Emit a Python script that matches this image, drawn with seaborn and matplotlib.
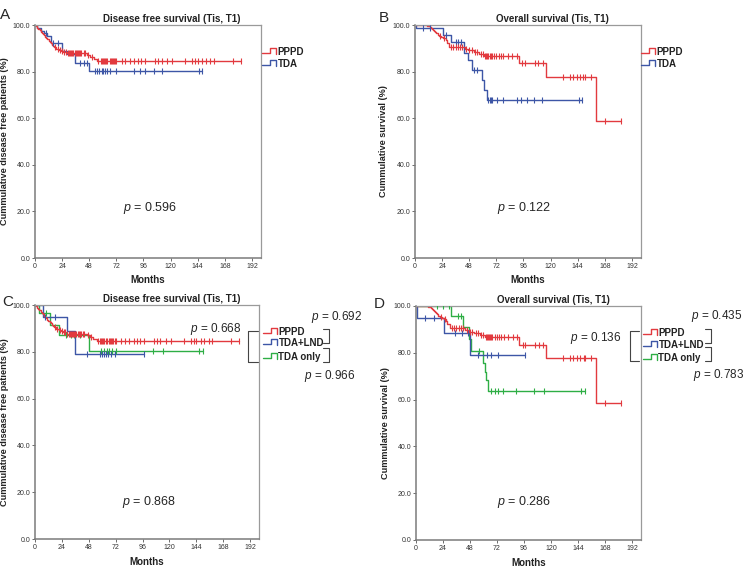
import numpy as np
import pandas as pd
import seaborn as sns
import matplotlib.pyplot as plt

# ---------------- data ----------------
month_ticks = [0, 24, 48, 72, 96, 120, 144, 168, 192]
pct_ticks = [0, 20, 40, 60, 80, 100]

# disease free survival (A, C)
dfs_pppd_t = [1, 2, 3, 4, 5, 6, 7, 8, 9, 10, 11, 12, 13, 14, 15, 16, 17, 19, 21, 23, 25, 28, 46, 49, 52, 55]
dfs_pppd_s = [99.4, 98.9, 98.3, 97.8, 97.2, 96.6, 96.1, 95.5, 95.0, 94.4, 93.8, 93.3, 92.7, 92.2, 91.6,
              91.0, 90.5, 89.9, 89.4, 88.8, 88.3, 87.8, 87.0, 86.2, 85.4, 84.6]
dfs_pppd_cens = [18, 20, 22, 24, 26, 27, 29, 30, 31, 32, 33, 34, 35, 36, 37, 38, 39, 40, 41, 43, 44, 47, 50,
                 56, 58, 59, 60, 61, 62, 63, 64, 66, 67, 68, 69, 70, 71, 72, 77, 80, 84, 88, 91, 94, 97,
                 106, 109, 112, 117, 121, 133, 139, 142, 144, 148, 151, 155, 158, 175, 182]

dfs_tda_t = [2, 5, 8, 11, 14, 24, 28, 35, 48]
dfs_tda_s = [98.8, 97.6, 96.4, 95.2, 92.1, 89.0, 87.5, 83.8, 80.1]
dfs_tda_cens = [10, 16, 20, 40, 43, 46, 53, 55, 57, 59, 60, 62, 64, 66, 72, 88, 93, 97, 105, 112, 145, 148]

dfs_lnd_t = [7, 29, 36]
dfs_lnd_s = [94.7, 89.0, 79.1]
dfs_lnd_cens = [9, 18, 46, 58, 60, 62, 63, 65, 68, 71, 97]

dfs_only_t = [4, 13, 21, 48]
dfs_only_s = [96.4, 91.5, 87.0, 80.2]
dfs_only_cens = [10, 28, 32, 35, 40, 59, 62, 64, 66, 69, 72, 105, 114, 146, 150]

# overall survival (B, D)
os_pppd_t = [11, 13, 14, 15, 16, 17, 18, 19, 20, 21, 23, 25, 27, 28, 30, 44, 47, 52, 57, 61, 92, 116, 160]
os_pppd_s = [99.6, 99.1, 98.7, 98.2, 97.8, 97.3, 96.9, 96.4, 95.9, 95.4, 94.9, 94.3, 93.4, 92.4, 90.7,
             89.7, 89.1, 88.3, 87.6, 86.8, 83.5, 77.8, 58.6]
os_pppd_cens = [22, 26, 32, 34, 36, 38, 40, 42, 45, 48, 50, 53, 55, 58, 60, 62, 63, 64, 65, 66, 67, 68, 70,
                72, 74, 76, 78, 82, 86, 90, 95, 97, 106, 109, 113, 131, 137, 140, 143, 146, 149, 150, 156,
                168, 182]

os_tda_t = [1, 25, 32, 43, 47, 50, 59, 61, 64]
os_tda_s = [98.6, 95.7, 92.8, 87.8, 85.0, 80.5, 76.2, 72.1, 67.8]
os_tda_cens = [7, 13, 27, 36, 38, 41, 52, 55, 65, 66, 67, 68, 73, 78, 90, 94, 99, 105, 112, 145, 148]

os_lnd_t = [1, 25, 48]
os_lnd_s = [94.7, 88.4, 78.9]
os_lnd_cens = [8, 16, 35, 41, 46, 55, 63, 67, 73, 97]

os_only_t = [31, 42, 47, 49, 60, 61, 62, 64]
os_only_s = [95.8, 91.2, 86.0, 80.9, 75.5, 72.0, 68.5, 63.6]
os_only_cens = [19, 24, 29, 37, 40, 56, 67, 70, 73, 77, 89, 105, 114, 147, 150]

RED, BLUE, GREEN = '#e23a3f', '#3d56a6', '#2eae45'
W, H = 743, 574

sns.set_theme(style='white')
plt.rcParams['font.family'] = ['Liberation Sans', 'DejaVu Sans']
plt.rcParams['mathtext.fontset'] = 'custom'
plt.rcParams['mathtext.it'] = 'Liberation Sans:italic'
plt.rcParams['mathtext.rm'] = 'Liberation Sans'


def km_curve(ax, times, surv, cens, color):
    end = max(max(cens), times[-1])
    steps = pd.DataFrame({'t': [0] + list(times) + [end],
                          's': [100] + list(surv) + [surv[-1]]})
    sns.lineplot(data=steps, x='t', y='s', drawstyle='steps-post', estimator=None, sort=False,
                 color=color, lw=1.0, ax=ax)
    full_t = np.array([0] + list(times))
    full_s = np.array([100] + list(surv))
    idx = np.searchsorted(full_t, cens, side='right') - 1
    marks = pd.DataFrame({'t': cens, 's': full_s[idx]})
    sns.scatterplot(data=marks, x='t', y='s', marker='|', s=14, linewidth=0.8,
                    color=color, ax=ax, zorder=3)


def style_axes(ax, ylabel, ylab_x):
    ax.set_xlim(0, 200)
    ax.set_ylim(0, 100)
    ax.set_xticks(month_ticks)
    ax.set_xticklabels([str(m) for m in month_ticks])
    ax.set_yticks(pct_ticks)
    ax.set_yticklabels(['%.1f' % p for p in pct_ticks])
    ax.tick_params(axis='both', which='both', labelsize=5, length=2, width=0.6, pad=1.5,
                   direction='out', color='#555555', labelcolor='#333333', bottom=True, left=True)
    for side in ['top', 'right']:
        ax.spines[side].set_color('#9a9a9a')
        ax.spines[side].set_linewidth(0.9)
    for side in ['left', 'bottom']:
        ax.spines[side].set_color('#7a7a7a')
        ax.spines[side].set_linewidth(1.1)
    ax.set_xlabel('Months', fontsize=7, fontweight='bold', color='#222222')
    ax.set_ylabel(ylabel, fontsize=6.6, fontweight='bold', color='#222222')
    ax.xaxis.set_label_coords(0.5, -0.075)
    ax.yaxis.set_label_coords(ylab_x, 0.5)


fig = plt.figure(figsize=(W / 100, H / 100), dpi=100)

# axes positions from pixel boxes (left, top, right, bottom)
boxes = {'A': (35, 25, 261, 258), 'B': (415, 25, 641, 258),
         'C': (35, 305, 259, 539), 'D': (416, 306, 641, 540)}
axs = {}
for k, (l, t, r, b) in boxes.items():
    axs[k] = fig.add_axes([l / W, 1 - b / H, (r - l) / W, (b - t) / H])

ax = axs['A']
km_curve(ax, dfs_tda_t, dfs_tda_s, dfs_tda_cens, BLUE)
km_curve(ax, dfs_pppd_t, dfs_pppd_s, dfs_pppd_cens, RED)
style_axes(ax, 'Cummulative disease free patients (%)', -0.113)
ax.text(102, 21.5, r'$p$ = 0.596', fontsize=9, ha='center', va='center')

ax = axs['B']
km_curve(ax, os_tda_t, os_tda_s, os_tda_cens, BLUE)
km_curve(ax, os_pppd_t, os_pppd_s, os_pppd_cens, RED)
style_axes(ax, 'Cummulative survival (%)', -0.120)
ax.text(97, 21.5, r'$p$ = 0.122', fontsize=9, ha='center', va='center')

ax = axs['C']
km_curve(ax, dfs_only_t, dfs_only_s, dfs_only_cens, GREEN)
km_curve(ax, dfs_lnd_t, dfs_lnd_s, dfs_lnd_cens, BLUE)
km_curve(ax, dfs_pppd_t, dfs_pppd_s, dfs_pppd_cens, RED)
style_axes(ax, 'Cummulative disease free patients (%)', -0.114)
ax.text(102, 16, r'$p$ = 0.868', fontsize=9, ha='center', va='center')

ax = axs['D']
km_curve(ax, os_only_t, os_only_s, os_only_cens, GREEN)
km_curve(ax, os_lnd_t, os_lnd_s, os_lnd_cens, BLUE)
km_curve(ax, os_pppd_t, os_pppd_s, os_pppd_cens, RED)
style_axes(ax, 'Cummulative survival (%)', -0.116)
ax.text(96, 16.4, r'$p$ = 0.286', fontsize=9, ha='center', va='center')

# overlay in pixel coordinates for titles, keys, brackets
ov = fig.add_axes([0, 0, 1, 1], zorder=5)
ov.set_xlim(0, W)
ov.set_ylim(H, 0)
ov.axis('off')

for letter, (x, y) in {'A': (0, 15), 'B': (379, 18), 'C': (2, 302), 'D': (374, 304)}.items():
    ov.text(x, y, letter, fontsize=11, ha='left', va='center')

titles = [('Disease free survival (Tis, T1)', 172, 19), ('Overall survival (Tis, T1)', 552, 19),
          ('Disease free survival (Tis, T1)', 172, 299), ('Overall survival (Tis, T1)', 553, 300)]
for txt, x, y in titles:
    ov.text(x, y, txt, fontsize=7, fontweight='bold', ha='center', va='center', color='#222222')


def key(x0, y, color, label):
    lo, hi = y + 0.8, y - 4.0
    ov.plot([x0, x0 + 8, x0 + 8, x0 + 14, x0 + 14], [lo, lo, hi, hi, lo + 0.8], color=color, lw=1.0)
    ov.text(x0 + 15.5, y, label, fontsize=7, fontweight='bold', ha='left', va='center', color='#222222')


key(262, 52, RED, 'PPPD')
key(262, 64, BLUE, 'TDA')
key(641, 52, RED, 'PPPD')
key(641, 64, BLUE, 'TDA')

key(263, 332, RED, 'PPPD')
key(263, 343, BLUE, 'TDA+LND')
key(263, 357, GREEN, 'TDA only')
key(643, 333, RED, 'PPPD')
key(643, 345, BLUE, 'TDA+LND')
key(643, 358, GREEN, 'TDA only')


def bracket(x_line, x_tip, y0, y1):
    ov.plot([x_tip, x_line, x_line, x_tip], [y0, y0, y1, y1], color='#444444', lw=0.8)


bracket(248, 258, 331, 362)
bracket(329, 323, 329, 343)
bracket(329, 323, 348, 362)
bracket(630, 639, 331, 361)
bracket(711, 705, 329, 343)
bracket(711, 705, 347, 361)

for txt, x, y in [('0.692', 337, 317), ('0.668', 216, 329), ('0.966', 330, 376),
                  ('0.435', 717, 316), ('0.136', 596, 338), ('0.783', 719, 375)]:
    ov.text(x, y, r'$p$ = ' + txt, fontsize=8.5, ha='center', va='center')

fig.savefig('out.png', dpi=100)
